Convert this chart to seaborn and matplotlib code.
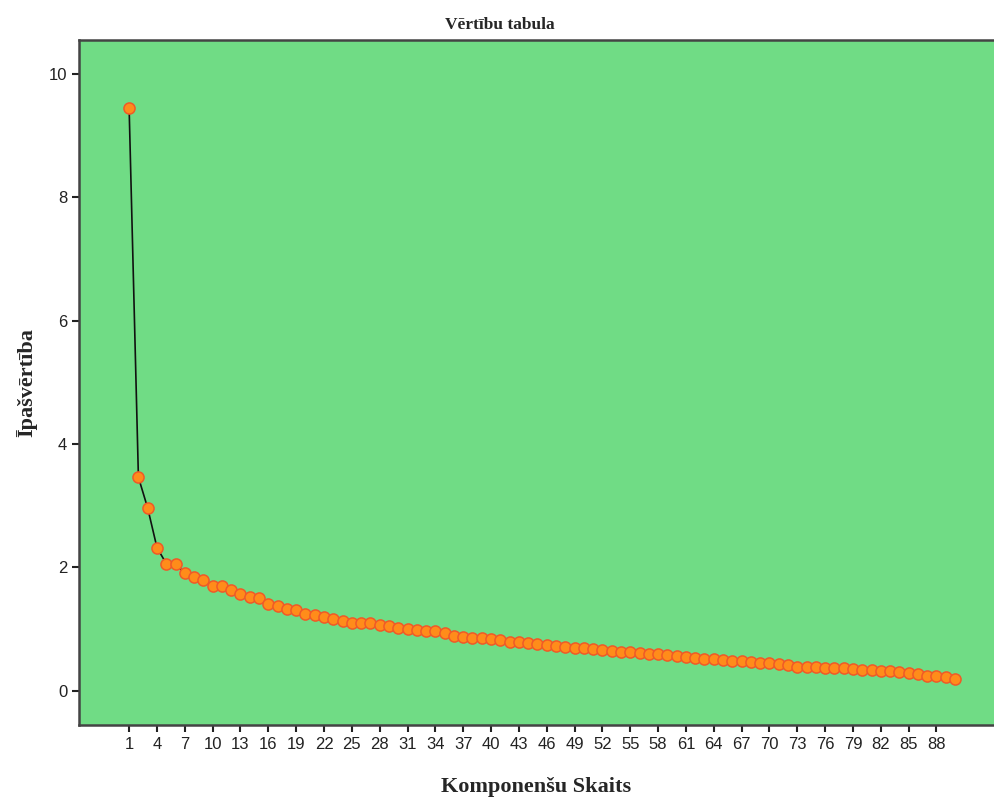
import matplotlib
matplotlib.use('Agg')
import matplotlib.pyplot as plt
import pandas as pd
import seaborn as sns

# Eigenvalues (components 1..90)
components = list(range(1, 91))
eigenvalues = [
    9.44, 3.46, 2.96, 2.32, 2.06, 2.05, 1.91, 1.85, 1.79, 1.70,
    1.70, 1.64, 1.56, 1.52, 1.51, 1.40, 1.38, 1.32, 1.30, 1.25,
    1.22, 1.20, 1.16, 1.13, 1.10, 1.10, 1.10, 1.07, 1.05, 1.02,
    1.00, 0.98, 0.97, 0.97, 0.93, 0.89, 0.875, 0.86, 0.85, 0.84,
    0.82, 0.79, 0.79, 0.78, 0.76, 0.74, 0.72, 0.71, 0.70, 0.69,
    0.68, 0.66, 0.65, 0.63, 0.62, 0.61, 0.59, 0.59, 0.58, 0.56,
    0.55, 0.53, 0.51, 0.51, 0.49, 0.48, 0.48, 0.47, 0.45, 0.45,
    0.43, 0.41, 0.39, 0.39, 0.38, 0.37, 0.36, 0.36, 0.35, 0.34,
    0.34, 0.32, 0.32, 0.31, 0.28, 0.27, 0.24, 0.23, 0.22, 0.19,
]
xtick_values = list(range(1, 89, 3))
yticks = [0, 2, 4, 6, 8, 10]

df = pd.DataFrame({'component': components, 'eigenvalue': eigenvalues})

sns.set_style('ticks')
plt.rcParams['font.family'] = ['Liberation Sans', 'DejaVu Sans']

fig = plt.figure(figsize=(9.94, 7.98), dpi=100)
ax = fig.add_axes([0.0795, 0.0915, 0.9205, 0.8585])
ax.set_facecolor('#70dc85')

sns.lineplot(data=df, x='component', y='eigenvalue', ax=ax, color='#111111',
             linewidth=1.2, marker='o', markersize=8,
             markerfacecolor='#ff8c1a', markeredgecolor='#ef5a28',
             markeredgewidth=1.1)

ax.set_xlim(-4.4, 94.2)
ax.set_ylim(-0.556, 10.55)
ax.set_xticks(xtick_values)
ax.set_yticks(yticks)
ax.tick_params(axis='both', labelsize=12, colors='#222222', length=5,
               width=1.5, direction='out')

for side in ['left', 'bottom', 'top']:
    ax.spines[side].set_color('#444444')
    ax.spines[side].set_linewidth(1.8)
ax.spines['right'].set_visible(False)

ax.set_xlabel('Komponenšu Skaits', family=['Liberation Serif', 'DejaVu Serif'],
              fontsize=16, fontweight='bold', labelpad=18)
ax.set_ylabel('Īpašvērtība', family=['Liberation Serif', 'DejaVu Serif'],
              fontsize=16, fontweight='bold', labelpad=8)
fig.text(0.503, 0.969, 'Vērtību tabula', family=['Liberation Serif', 'DejaVu Serif'],
         fontsize=12.5, fontweight='bold', ha='center', va='center')

fig.savefig('out.png', dpi=100)
